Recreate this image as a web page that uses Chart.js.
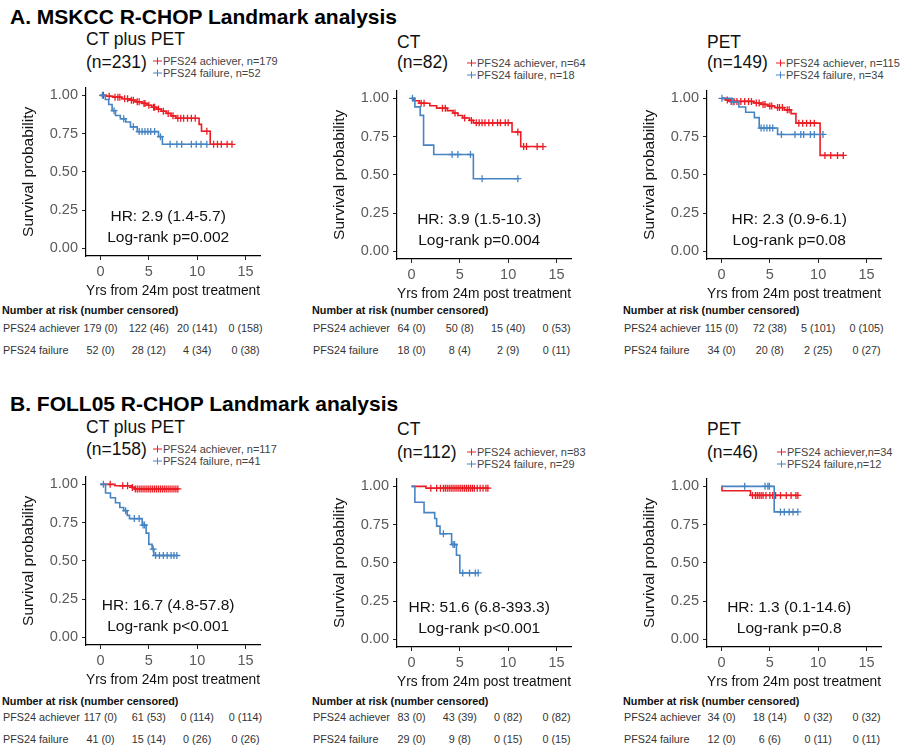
<!DOCTYPE html>
<html>
<head>
<title>PFS24 Landmark analysis</title>
<script src="https://cdn.jsdelivr.net/npm/chart.js"></script>
<style>
    body { margin: 0; background: #fff; font-family: "Liberation Sans", Arial, sans-serif; }
    #fig { position: relative; width: 900px; height: 749px; overflow: hidden; }
    #fig canvas { position: absolute; }
    .t { position: absolute; white-space: nowrap; line-height: 1; }
    .hdr { font-weight: bold; font-size: 21px; color: #000; }
    .ttl { font-size: 17.5px; color: #111; }
    .leg { font-size: 11px; color: #444; }
    .rh { font-weight: bold; font-size: 10.8px; color: #111; }
    .rr { font-size: 10.8px; color: #333; }
    .key { display: inline-block; position: relative; width: 9px; height: 9px; vertical-align: -1px; margin-right: 1px; }
    .key:before { content: ''; position: absolute; left: 0; right: 0; top: 4px; height: 1.3px; background: currentColor; }
    .key:after { content: ''; position: absolute; left: 4px; top: 1px; bottom: 1px; width: 1.3px; background: currentColor; }
</style>
</head>
<body>
<div id="fig"></div>
<script>
    // axis ticks
    var xTicks = [0, 5, 10, 15];
    var yTicks = [0, 0.25, 0.5, 0.75, 1];

    // A. MSKCC - CT plus PET
    var a1AchT = [0, 0.6, 1.3, 2.2, 3.0, 3.6, 4.3, 4.8, 5.3, 5.8, 6.3, 6.8, 7.3, 7.8, 10.2, 10.45, 11.35, 13.6];
    var a1AchS = [1, 0.994, 0.988, 0.978, 0.968, 0.958, 0.947, 0.935, 0.922, 0.91, 0.896, 0.882, 0.866, 0.85, 0.81, 0.765, 0.68, 0.68];
    var a1AchCens = [0.3, 0.9, 1.5, 1.8, 2.0, 2.5, 2.8, 3.2, 3.4, 3.8, 4.0, 4.5, 4.6, 5.0, 5.5, 5.6, 6.0, 6.5, 7.0, 7.5, 8.0, 8.3, 8.6, 9.0, 9.4, 9.8, 11.0, 11.7, 12.1, 12.5, 13.1, 13.6];
    var a1FailT = [0, 0.5, 0.85, 1.2, 1.55, 2.05, 2.6, 3.1, 3.8, 6.0, 6.4, 11.0];
    var a1FailS = [1, 0.973, 0.94, 0.9, 0.868, 0.847, 0.826, 0.794, 0.763, 0.73, 0.68, 0.68];
    var a1FailCens = [0.2, 1.4, 2.4, 3.4, 4.0, 4.3, 4.6, 4.9, 5.2, 5.6, 6.2, 7.2, 7.9, 8.4, 9.4, 9.9, 10.4, 11.0];
    var a1AchRisk = ['179 (0)', '122 (46)', '20 (141)', '0 (158)'];
    var a1FailRisk = ['52 (0)', '28 (12)', '4 (34)', '0 (38)'];

    // A. MSKCC - CT
    var a2AchT = [0, 0.25, 0.8, 1.9, 2.6, 3.7, 4.3, 4.8, 5.3, 6.0, 6.4, 10.4, 11.3, 13.6];
    var a2AchS = [1, 0.984, 0.968, 0.952, 0.936, 0.92, 0.904, 0.888, 0.872, 0.856, 0.84, 0.78, 0.685, 0.685];
    var a2AchCens = [1.0, 1.3, 3.2, 3.5, 4.5, 5.5, 6.2, 6.7, 7.0, 7.3, 7.6, 8.0, 8.4, 8.9, 9.2, 9.7, 10.0, 11.0, 11.6, 11.9, 13.0, 13.6];
    var a2FailT = [0, 0.35, 0.9, 1.25, 2.3, 6.4, 11.0];
    var a2FailS = [1, 0.944, 0.889, 0.694, 0.633, 0.475, 0.475];
    var a2FailCens = [0.1, 4.2, 4.8, 6.1, 7.3, 11.0];
    var a2AchRisk = ['64 (0)', '50 (8)', '15 (40)', '0 (53)'];
    var a2FailRisk = ['18 (0)', '8 (4)', '2 (9)', '0 (11)'];

    // A. MSKCC - PET
    var a3AchT = [0, 0.45, 0.9, 3.3, 4.1, 4.8, 5.5, 6.5, 7.2, 7.7, 10.2, 12.6];
    var a3AchS = [1, 0.99, 0.98, 0.97, 0.96, 0.95, 0.94, 0.925, 0.9, 0.838, 0.627, 0.627];
    var a3AchCens = [0.6, 1.0, 1.3, 1.6, 2.0, 2.4, 2.8, 3.1, 3.6, 3.9, 4.3, 4.5, 5.0, 5.2, 5.8, 6.0, 6.3, 6.8, 7.0, 8.0, 8.4, 8.8, 9.2, 9.6, 10.7, 11.3, 12.0, 12.6];
    var a3FailT = [0, 1.1, 1.8, 2.5, 3.4, 3.9, 5.8, 10.5];
    var a3FailS = [1, 0.976, 0.943, 0.909, 0.874, 0.806, 0.764, 0.764];
    var a3FailCens = [0.05, 1.2, 4.1, 4.4, 4.7, 5.0, 5.3, 6.2, 7.6, 8.2, 8.5, 9.2, 9.6, 10.5];
    var a3AchRisk = ['115 (0)', '72 (38)', '5 (101)', '0 (105)'];
    var a3FailRisk = ['34 (0)', '20 (8)', '2 (25)', '0 (27)'];

    // B. FOLL05 - CT plus PET
    var b1AchT = [0, 1.5, 3.2, 3.5, 8.0];
    var b1AchS = [1, 0.991, 0.98, 0.97, 0.97];
    var b1AchCens = [1.0, 2.3, 2.8, 3.3, 3.6, 3.8, 4.0, 4.2, 4.4, 4.6, 4.8, 5.0, 5.2, 5.4, 5.6, 5.8, 6.0, 6.2, 6.4, 6.6, 6.8, 7.0, 7.2, 7.4, 7.6, 7.8, 8.0];
    var b1FailT = [0, 0.52, 1.03, 1.55, 2.0, 2.4, 2.76, 3.0, 4.31, 4.72, 5.0, 5.34, 5.52, 7.9];
    var b1FailS = [1, 0.943, 0.912, 0.88, 0.849, 0.828, 0.797, 0.776, 0.734, 0.681, 0.608, 0.577, 0.535, 0.535];
    var b1FailCens = [0.3, 2.6, 3.5, 4.0, 4.4, 4.55, 5.45, 5.7, 6.1, 6.5, 6.9, 7.3, 7.6, 7.9];
    var b1AchRisk = ['117 (0)', '61 (53)', '0 (114)', '0 (114)'];
    var b1FailRisk = ['41 (0)', '15 (14)', '0 (26)', '0 (26)'];

    // B. FOLL05 - CT
    var b2AchT = [0, 1.5, 7.9];
    var b2AchS = [1, 0.988, 0.988];
    var b2AchCens = [2.0, 2.6, 3.0, 3.3, 3.5, 3.7, 3.9, 4.1, 4.3, 4.5, 4.7, 4.9, 5.1, 5.3, 5.5, 5.7, 5.9, 6.1, 6.3, 6.5, 6.8, 7.1, 7.4, 7.7, 7.9];
    var b2FailT = [0, 0.35, 1.3, 2.4, 2.6, 2.95, 4.15, 4.65, 5.0, 6.9];
    var b2FailS = [1, 0.896, 0.828, 0.79, 0.74, 0.69, 0.62, 0.55, 0.434, 0.434];
    var b2FailCens = [3.3, 4.3, 4.45, 5.3, 6.0, 6.6, 6.9];
    var b2AchRisk = ['83 (0)', '43 (39)', '0 (82)', '0 (82)'];
    var b2FailRisk = ['29 (0)', '9 (8)', '0 (15)', '0 (15)'];

    // B. FOLL05 - PET
    var b3AchT = [0, 0.05, 3.0, 7.9];
    var b3AchS = [1, 0.971, 0.941, 0.941];
    var b3AchCens = [3.2, 3.5, 3.7, 3.9, 4.1, 4.3, 4.6, 5.0, 5.3, 5.6, 6.1, 6.7, 7.2, 7.7, 7.9];
    var b3FailT = [0, 5.45, 7.9];
    var b3FailS = [1, 0.833, 0.833];
    var b3FailCens = [2.4, 4.5, 4.8, 4.95, 6.1, 6.5, 7.0, 7.4, 7.9];
    var b3AchRisk = ['34 (0)', '18 (14)', '0 (32)', '0 (32)'];
    var b3FailRisk = ['12 (0)', '6 (6)', '0 (11)', '0 (11)'];

    var RED = '#ec1c24';
    var BLUE = '#4684c4';
    var FONT = '"Liberation Sans", Arial, sans-serif';

    // panel layout (positions only)
    var panels = [
        { left: 0, top: 75, title: 'CT plus PET', n: '(n=231)', titleY: 40, nY: 63, legX: 153, legY: [61, 73],
          legend: ['PFS24 achiever, n=179', 'PFS24 failure, n=52'], hr: 'HR: 2.9 (1.4-5.7)', lr: 'Log-rank p=0.002',
          achT: a1AchT, achS: a1AchS, achC: a1AchCens, failT: a1FailT, failS: a1FailS, failC: a1FailCens,
          achRisk: a1AchRisk, failRisk: a1FailRisk, riskX: 2, riskY: [310, 328, 350] },
        { left: 311, top: 78, title: 'CT', n: '(n=82)', titleY: 43, nY: 63, legX: 467, legY: [63, 75],
          legend: ['PFS24 achiever, n=64', 'PFS24 failure, n=18'], hr: 'HR: 3.9 (1.5-10.3)', lr: 'Log-rank p=0.004',
          achT: a2AchT, achS: a2AchS, achC: a2AchCens, failT: a2FailT, failS: a2FailS, failC: a2FailCens,
          achRisk: a2AchRisk, failRisk: a2FailRisk, riskX: 312, riskY: [310, 328, 350] },
        { left: 621, top: 78, title: 'PET', n: '(n=149)', titleY: 43, nY: 63, legX: 776, legY: [63, 75],
          legend: ['PFS24 achiever, n=115', 'PFS24 failure, n=34'], hr: 'HR: 2.3 (0.9-6.1)', lr: 'Log-rank p=0.08',
          achT: a3AchT, achS: a3AchS, achC: a3AchCens, failT: a3FailT, failS: a3FailS, failC: a3FailCens,
          achRisk: a3AchRisk, failRisk: a3FailRisk, riskX: 623, riskY: [310, 328, 350] },
        { left: 0, top: 464, title: 'CT plus PET', n: '(n=158)', titleY: 428, nY: 450, legX: 153, legY: [449, 461],
          legend: ['PFS24 achiever, n=117', 'PFS24 failure, n=41'], hr: 'HR: 16.7 (4.8-57.8)', lr: 'Log-rank p<0.001',
          achT: b1AchT, achS: b1AchS, achC: b1AchCens, failT: b1FailT, failS: b1FailS, failC: b1FailCens,
          achRisk: b1AchRisk, failRisk: b1FailRisk, riskX: 2, riskY: [701, 717, 739] },
        { left: 311, top: 466, title: 'CT', n: '(n=112)', titleY: 430, nY: 453, legX: 467, legY: [452, 464],
          legend: ['PFS24 achiever, n=83', 'PFS24 failure, n=29'], hr: 'HR: 51.6 (6.8-393.3)', lr: 'Log-rank p<0.001',
          achT: b2AchT, achS: b2AchS, achC: b2AchCens, failT: b2FailT, failS: b2FailS, failC: b2FailCens,
          achRisk: b2AchRisk, failRisk: b2FailRisk, riskX: 312, riskY: [701, 717, 739] },
        { left: 621, top: 466, title: 'PET', n: '(n=46)', titleY: 430, nY: 453, legX: 777, legY: [452, 464],
          legend: ['PFS24 achiever,n=34', 'PFS24 failure,n=12'], hr: 'HR: 1.3 (0.1-14.6)', lr: 'Log-rank p=0.8',
          achT: b3AchT, achS: b3AchS, achC: b3AchCens, failT: b3FailT, failS: b3FailS, failC: b3FailCens,
          achRisk: b3AchRisk, failRisk: b3FailRisk, riskX: 623, riskY: [701, 717, 739] }
    ];

    var fig = document.getElementById('fig');

    function put(cls, x, y, html, centre) {
        var d = document.createElement('div');
        d.className = 't ' + cls;
        d.innerHTML = html;
        d.style.left = x + 'px';
        d.style.top = y + 'px';
        d.style.transform = centre ? 'translate(-50%,-50%)' : 'translateY(-50%)';
        fig.appendChild(d);
    }

    function stepData(T, S) {
        return T.map(function (t, i) { return { x: t, y: S[i] }; });
    }

    // censor marks sit on the curve at their time
    function censData(T, S, C) {
        return C.map(function (c) {
            var s = 1;
            for (var i = 0; i < T.length; i++) if (T[i] <= c) s = S[i];
            return { x: c, y: s };
        });
    }

    // HR / log-rank text inside the plot
    var kmNote = {
        id: 'kmNote',
        afterDatasetsDraw: function (chart, args, opts) {
            var ctx = chart.ctx, x = chart.scales.x, y = chart.scales.y;
            ctx.save();
            ctx.font = '15.5px ' + FONT;
            ctx.fillStyle = '#111';
            ctx.textAlign = 'center';
            ctx.textBaseline = 'middle';
            ctx.fillText(opts.hr, x.getPixelForValue(7), y.getPixelForValue(0.21));
            ctx.fillText(opts.lr, x.getPixelForValue(7), y.getPixelForValue(0.07));
            ctx.restore();
        }
    };

    Chart.defaults.font.family = FONT;

    put('hdr', 10, 16, 'A. MSKCC R-CHOP Landmark analysis');
    put('hdr', 10, 403, 'B. FOLL05 R-CHOP Landmark analysis');

    panels.forEach(function (p) {
        put('ttl', p.left + 86, p.titleY, p.title);
        put('ttl', p.left + 86, p.nY, p.n);
        put('leg', p.legX, p.legY[0], '<span class="key" style="color:' + RED + '"></span>' + p.legend[0]);
        put('leg', p.legX, p.legY[1], '<span class="key" style="color:' + BLUE + '"></span>' + p.legend[1]);

        var cv = document.createElement('canvas');
        cv.width = 270;
        cv.height = 225;
        cv.style.left = p.left + 'px';
        cv.style.top = p.top + 'px';
        fig.appendChild(cv);

        var chart = new Chart(cv, {
            type: 'line',
            data: {
                datasets: [
                    { data: stepData(p.failT, p.failS), borderColor: BLUE, borderWidth: 1.6, stepped: true, pointRadius: 0, fill: false },
                    { data: censData(p.failT, p.failS, p.failC), borderColor: BLUE, showLine: false, pointStyle: 'cross', pointRadius: 3.5, borderWidth: 1.3 },
                    { data: stepData(p.achT, p.achS), borderColor: RED, borderWidth: 1.6, stepped: true, pointRadius: 0, fill: false },
                    { data: censData(p.achT, p.achS, p.achC), borderColor: RED, showLine: false, pointStyle: 'cross', pointRadius: 3.5, borderWidth: 1.3 }
                ]
            },
            options: {
                responsive: false,
                animation: false,
                events: [],
                layout: { padding: { top: 6, right: 10, bottom: 0, left: 0 } },
                plugins: {
                    legend: { display: false },
                    tooltip: { enabled: false },
                    kmNote: { hr: p.hr, lr: p.lr }
                },
                scales: {
                    x: {
                        type: 'linear', min: -1.5, max: 16.5,
                        afterBuildTicks: function (s) { s.ticks = xTicks.map(function (v) { return { value: v }; }); },
                        afterFit: function (s) { s.height = 44; },
                        ticks: { font: { size: 14.5 }, color: '#5a5a5a', padding: 3, maxRotation: 0, autoSkip: false },
                        grid: { drawOnChartArea: false, drawTicks: true, tickLength: 4, color: '#222' },
                        border: { color: '#000', width: 1.2 },
                        title: { display: true, text: 'Yrs from 24m post treatment', font: { size: 15.5 }, color: '#111', padding: 0 }
                    },
                    y: {
                        min: -0.05, max: 1.05,
                        afterBuildTicks: function (s) { s.ticks = yTicks.map(function (v) { return { value: v }; }); },
                        afterFit: function (s) { s.width = 86; },
                        ticks: { font: { size: 14.5 }, color: '#5a5a5a', padding: 4, callback: function (v) { return v.toFixed(2); } },
                        grid: { drawOnChartArea: false, drawTicks: true, tickLength: 4, color: '#222' },
                        border: { color: '#000', width: 1.2 },
                        title: { display: true, text: 'Survival probability', font: { size: 15.5 }, color: '#111', padding: { top: 19, bottom: 0 } }
                    }
                }
            },
            plugins: [kmNote]
        });

        // number-at-risk table, columns lined up with the x ticks
        put('rh', p.riskX, p.riskY[0], 'Number at risk (number censored)');
        put('rr', p.riskX + 1, p.riskY[1], 'PFS24 achiever');
        put('rr', p.riskX + 1, p.riskY[2], 'PFS24 failure');
        xTicks.forEach(function (t, i) {
            var px = p.left + chart.scales.x.getPixelForValue(t);
            put('rr', px, p.riskY[1], p.achRisk[i], true);
            put('rr', px, p.riskY[2], p.failRisk[i], true);
        });
    });
</script>
</body>
</html>
